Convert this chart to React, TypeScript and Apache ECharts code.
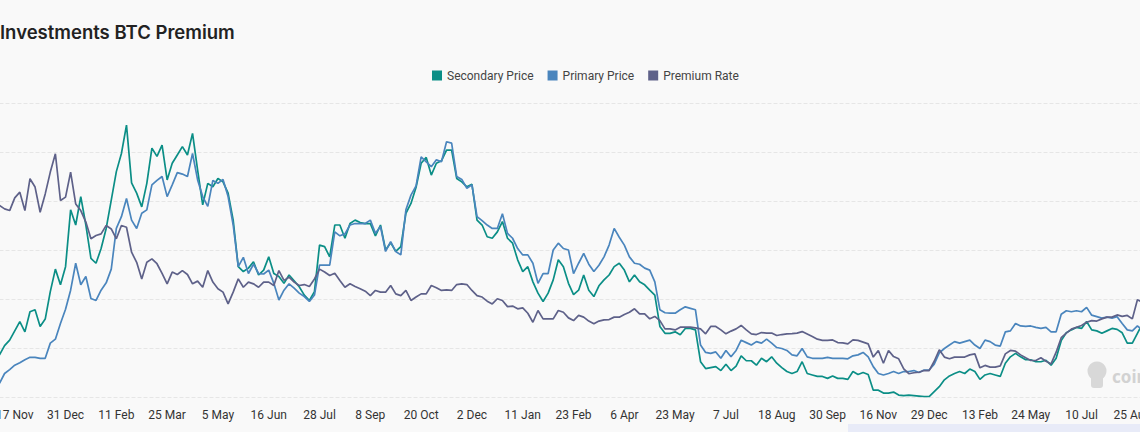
import React, { useEffect, useRef } from "react";
import * as echarts from "echarts";

const tickLabels = ["17 Nov","31 Dec","11 Feb","25 Mar","5 May","16 Jun","28 Jul","8 Sep","20 Oct","2 Dec","11 Jan","23 Feb","6 Apr","23 May","7 Jul","18 Aug","30 Sep","16 Nov","29 Dec","13 Feb","24 May","10 Jul","25 Aug"];

const secondaryPrice = [
  8.7, 10.6, 11.7, 13.6, 15.5, 13.4, 17.5, 17.9, 14.5, 16.0,
  21.6, 26.2, 23.0, 26.7, 38.3, 35.2, 41.0, 35.2, 28.4, 27.4,
  30.4, 34.5, 40.3, 46.1, 49.8, 55.6, 43.8, 41.7, 38.9, 43.7,
  50.9, 49.2, 51.5, 44.4, 47.8, 49.5, 51.2, 49.5, 53.9, 46.4,
  39.3, 43.7, 43.0, 44.7, 44.0, 41.7, 36.2, 26.7, 25.7, 26.4,
  27.7, 25.0, 26.0, 28.7, 25.3, 24.7, 23.3,
  25.0, 23.8, 22.6, 20.9, 19.8, 21.6, 31.1, 30.8, 28.7, 35.2,
  35.2, 32.5, 35.5, 36.2, 35.7, 35.5, 35.5, 33.0, 35.2, 30.1,
  31.6, 29.8, 30.8, 37.6, 39.6, 42.9, 47.8, 49.0, 45.4, 47.8,
  48.3, 50.5, 50.5, 44.7, 44.0, 43.0, 43.5, 36.2, 35.2, 32.8,
  32.5, 33.8, 35.9, 32.5, 31.5, 28.1, 25.7, 26.7, 23.6, 21.3,
  19.6, 21.3, 24.0, 28.1, 26.7, 23.3,
  21.0, 21.9, 25.0, 21.9, 20.6, 22.8, 24.0, 25.0, 26.7, 27.4,
  26.0, 23.6, 25.0, 23.6, 23.0, 21.9, 20.9, 14.5, 13.1, 13.1,
  13.4, 12.8, 14.1, 14.1, 13.8, 7.3, 5.9, 6.1, 6.3, 5.5,
  6.8, 5.5, 6.4, 8.5, 7.5, 7.5, 6.6, 8.0, 7.3, 8.3,
  7.0, 6.1, 5.3, 4.9, 5.3, 7.3, 4.9, 4.6, 4.3, 4.3,
  3.9, 4.4, 3.9, 3.9, 3.7, 5.3,
  4.7, 5.1, 4.7, 1.5, 1.5, 0.9, 0.9, 1.1, 0.5, 0.4,
  0.5, 0.4, 0.3, 0.2, 0.2, 1.2, 2.2, 3.6, 4.4, 4.9,
  5.3, 4.9, 5.8, 5.3, 3.7, 4.6, 4.9, 4.6, 4.3, 7.0,
  8.3, 9.0, 8.3, 7.7, 7.7, 7.3, 7.3, 7.6, 6.6, 8.0,
  11.6, 13.2, 13.8, 14.3, 14.1, 15.5, 13.8, 13.6, 13.1, 13.6,
  14.1, 13.9, 13.2, 11.1, 11.1, 13.1, 15.1
];

const primaryPrice = [
  2.9, 4.9, 5.7, 6.6, 7.1, 7.7, 8.2, 8.2, 8.0, 8.0,
  11.1, 11.9, 15.1, 18.0, 21.9, 27.4, 23.0, 24.7, 20.2, 19.8,
  21.9, 23.4, 26.2, 34.5, 36.9, 40.6, 36.2, 34.5, 37.6, 38.3,
  43.4, 44.3, 45.1, 41.0, 43.4, 45.9, 45.6, 45.1, 49.8, 44.4,
  41.0, 39.0, 44.3, 43.7, 44.5, 41.0, 35.2, 26.7, 28.6, 25.3,
  27.2, 25.3, 25.2, 26.0, 23.3, 19.9, 21.9,
  23.2, 22.3, 21.3, 20.6, 19.6, 20.9, 27.0, 27.0, 27.0, 33.8,
  33.0, 33.4, 35.2, 35.5, 35.5, 35.5, 36.2, 33.5, 34.9, 29.8,
  31.8, 29.8, 29.1, 38.3, 41.3, 43.2, 49.1, 48.1, 47.1, 48.5,
  48.1, 52.2, 51.9, 45.1, 44.5, 42.7, 43.4, 36.9, 36.1, 35.2,
  34.5, 34.5, 37.5, 33.5, 32.5, 30.4, 29.1, 29.1, 27.4, 23.3,
  25.3, 25.3, 30.1, 31.5, 30.4, 30.1,
  25.3, 27.4, 29.4, 27.2, 25.7, 27.0, 28.7, 31.1, 34.5, 32.7,
  31.1, 28.7, 27.4, 27.2, 26.4, 26.0, 23.6, 17.9, 17.3, 17.2,
  17.2, 17.9, 18.5, 18.2, 17.9, 10.7, 9.2, 9.0, 9.3, 8.0,
  9.6, 8.3, 9.6, 11.7, 11.2, 10.7, 11.4, 11.1, 11.9, 11.1,
  10.2, 10.0, 9.6, 8.7, 8.5, 10.0, 8.3, 8.0, 8.0, 8.0,
  8.2, 8.0, 8.0, 8.0, 7.9, 8.5,
  8.7, 9.2, 8.3, 6.3, 4.9, 4.6, 4.9, 5.3, 4.9, 5.3,
  5.3, 5.5, 5.1, 5.6, 5.6, 6.8, 9.1, 10.0, 10.7, 11.4,
  11.1, 11.4, 11.7, 10.7, 10.0, 11.7, 11.4, 10.7, 10.5, 13.4,
  13.6, 15.1, 14.6, 14.5, 14.6, 14.3, 14.1, 14.3, 13.4, 13.4,
  17.0, 17.7, 17.5, 17.7, 17.5, 18.4, 16.8, 16.5, 16.2, 16.4,
  16.2, 16.5, 15.1, 13.8, 13.6, 14.6, 13.8
];

const premiumRate = [
  18.4, 17.0, 16.3, 21.5, 23.8, 16.3, 29.3, 25.9, 15.6, 23.1,
  32.0, 39.5, 20.4, 21.8, 32.0, 19.0, 16.3, 11.6, 4.8, 6.1,
  6.8, 10.2, 8.8, 4.8, 10.2, 9.5, -0.7, -4.8, -11.6, -4.8,
  -3.4, -5.4, -9.3, -13.6, -8.8, -9.8, -8.2, -9.8, -13.6, -12.5,
  -15.0, -8.2, -12.9, -15.6, -17.0, -21.8, -17.0, -11.6, -15.0, -12.9,
  -13.6, -15.0, -12.9, -12.9, -14.3, -8.2, -12.2,
  -10.9, -12.9, -14.3, -13.9, -14.7, -11.6, -7.6, -8.8, -10.2, -9.3,
  -12.2, -15.0, -13.6, -14.7, -15.6, -16.6, -18.4, -16.3, -17.0, -17.0,
  -14.3, -17.7, -18.4, -16.3, -20.4, -19.0, -17.7, -17.7, -14.3, -15.2,
  -16.3, -16.1, -16.3, -13.9, -13.6, -13.9, -16.3, -18.4, -19.0, -20.7,
  -21.8, -19.7, -20.4, -22.9, -22.7, -23.8, -23.4, -25.6, -29.3, -24.5,
  -27.9, -27.9, -27.9, -24.5, -25.2, -27.5,
  -28.6, -26.5, -27.2, -28.8, -29.9, -28.8, -28.3, -28.2, -27.2, -27.2,
  -26.1, -25.2, -23.8, -25.9, -25.9, -27.9, -26.9, -28.6, -32.0, -32.0,
  -32.4, -31.3, -31.3, -31.3, -31.6, -32.0, -34.0, -31.0, -31.0, -32.4,
  -34.0, -32.9, -32.0, -30.6, -32.4, -34.0, -34.3, -33.5, -33.7, -33.7,
  -34.7, -34.3, -34.0, -33.9, -33.7, -33.1, -34.1, -35.1, -36.2, -36.7,
  -36.7, -36.5, -37.6, -37.7, -38.1, -36.5,
  -36.7, -37.4, -38.1, -43.5, -40.8, -46.0, -40.8, -43.3, -44.2, -48.3,
  -50.3, -49.9, -49.7, -49.0, -49.0, -45.2, -40.5, -43.5, -44.2, -43.5,
  -43.5, -43.5, -42.6, -42.2, -47.9, -46.9, -47.6, -47.6, -47.1, -42.2,
  -40.8, -41.1, -42.6, -43.8, -44.9, -44.9, -43.8, -45.2, -46.3, -41.5,
  -35.6, -33.7, -32.1, -31.3, -30.6, -29.3, -28.6, -28.8, -27.9, -27.2,
  -27.2, -26.3, -26.9, -26.5, -27.9, -20.1, -21.1
];

const LABEL_EVERY = 10;
const LABEL_OFFSET = 3;
const categories = secondaryPrice.map((_, i) =>
  i >= LABEL_OFFSET && (i - LABEL_OFFSET) % LABEL_EVERY === 0
    ? tickLabels[(i - LABEL_OFFSET) / LABEL_EVERY] ?? ""
    : ""
);

const COLORS = { secondary: "#0b8e86", primary: "#4a85bd", premium: "#5e6189" };

export default function App() {
  const ref = useRef<HTMLDivElement>(null);
  useEffect(() => {
    if (!ref.current) return;
    const chart = echarts.init(ref.current, null, { renderer: "svg" });
    chart.setOption({
      animation: false,
      backgroundColor: "#f9f9f9",
      title: {
        text: "Investments BTC Premium",
        left: 0,
        top: 22,
        padding: 0,
        textStyle: { fontFamily: "Inter", fontSize: 18.5, fontWeight: 600, color: "#222" },
      },
      legend: {
        left: 432,
        top: 69.5,
        padding: 0,
        icon: "rect",
        itemWidth: 10,
        itemHeight: 10,
        itemGap: 14,
        textStyle: { fontFamily: "Roboto", fontSize: 12, color: "#444" },
        data: ["Secondary Price", "Primary Price", "Premium Rate"],
      },
      grid: {
        left: -0.5,
        right: -2.5,
        top: 103.5,
        bottom: 34.5,
        containLabel: false,
        outerBoundsMode: "none",
      },
      xAxis: {
        type: "category",
        data: categories,
        boundaryGap: false,
        axisLine: { show: false },
        axisTick: { show: false },
        splitLine: { show: false },
        axisLabel: {
          interval: (i: number) => i >= LABEL_OFFSET && (i - LABEL_OFFSET) % LABEL_EVERY === 0,
          margin: 11,
          fontFamily: "Roboto",
          fontSize: 12,
          color: "#333",
          hideOverlap: false,
        },
      },
      yAxis: [
        {
          type: "value",
          min: 0,
          max: 60,
          interval: 10,
          axisLabel: { show: false },
          axisLine: { show: false },
          axisTick: { show: false },
          splitLine: { show: true, lineStyle: { type: "dashed", color: "#e6e6e6", width: 1 } },
        },
        {
          type: "value",
          position: "right",
          min: -60,
          max: 60,
          interval: 20,
          axisLabel: { show: false },
          axisLine: { show: false },
          axisTick: { show: false },
          splitLine: { show: false },
        },
      ],
      series: [
        {
          name: "Secondary Price",
          type: "line",
          data: secondaryPrice,
          yAxisIndex: 0,
          showSymbol: false,
          color: COLORS.secondary,
          lineStyle: { width: 1.7, color: COLORS.secondary },
        },
        {
          name: "Primary Price",
          type: "line",
          data: primaryPrice,
          yAxisIndex: 0,
          showSymbol: false,
          color: COLORS.primary,
          lineStyle: { width: 1.7, color: COLORS.primary },
        },
        {
          name: "Premium Rate",
          type: "line",
          data: premiumRate,
          yAxisIndex: 1,
          showSymbol: false,
          color: COLORS.premium,
          lineStyle: { width: 1.7, color: COLORS.premium },
        },
      ],
      graphic: [
        { type: "rect", shape: { x: 848, y: 424, width: 292, height: 8 }, style: { fill: "#e8ebf8" }, silent: true },
        { type: "circle", shape: { cx: 1097, cy: 371, r: 9.5 }, style: { fill: "#d8d8d8" }, silent: true },
        { type: "rect", shape: { x: 1091, y: 373, width: 12, height: 15, r: 3 }, style: { fill: "#d8d8d8" }, silent: true },
        {
          type: "text",
          x: 1112,
          y: 376,
          style: {
            text: "coinglass",
            fill: "#d2d2d2",
            font: "bold 17px 'Noto Sans'",
            verticalAlign: "middle",
          },
          silent: true,
        },
      ],
    });
    return () => chart.dispose();
  }, []);
  return (
    <div style={{ position: "fixed", left: 0, top: 0, width: 1140, height: 432, overflow: "hidden" }}>
      <div ref={ref} style={{ width: 1140, height: 432 }} />
    </div>
  );
}
